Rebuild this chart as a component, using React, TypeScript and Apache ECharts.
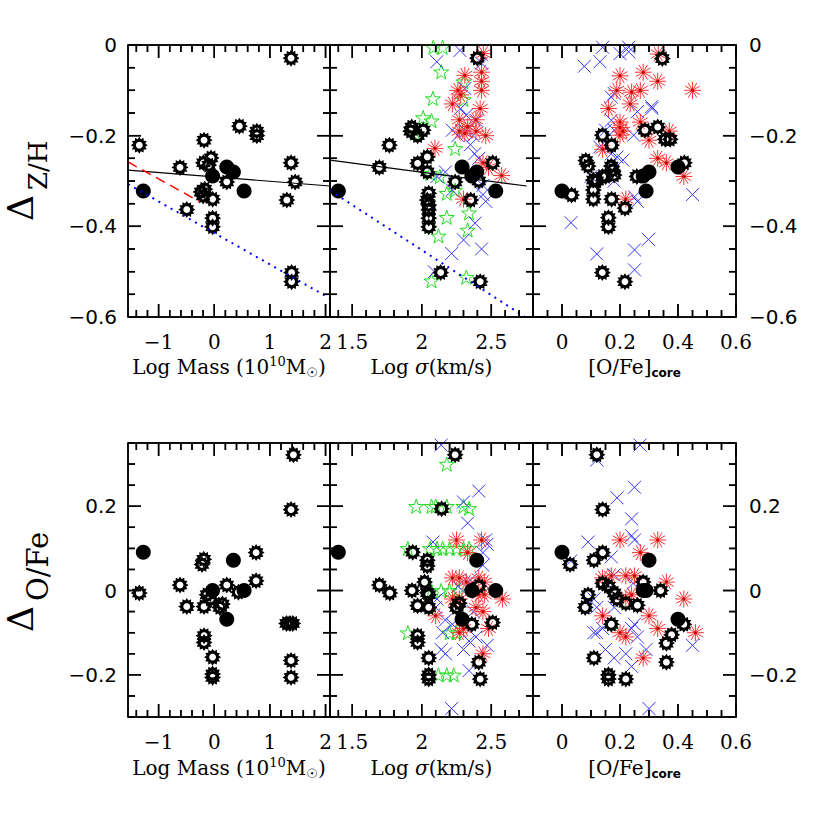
import React, { useEffect, useRef } from 'react';
import * as echarts from 'echarts';

// ---------- data ----------
// five galaxies drawn as filled black circles (same objects in every panel)
const galMass = [-1.275, -0.03, 0.225, 0.344, 0.536];
const galSigma = [1.40, 2.36, 2.29, 2.395, 2.532];
const galOFeCore = [0.0, 0.28, 0.40, 0.30, 0.29];
const galDZH = [-0.322, -0.289, -0.269, -0.28, -0.322];
const galDOFe = [0.091, 0.0, -0.068, 0.072, 0.0];

// open "sun" markers
const sunMassZH = [[-1.347,-0.221],[-0.615,-0.27],[-0.494,-0.363],[-0.183,-0.21],[-0.195,-0.26],[-0.057,-0.249],[-0.1,-0.265],[-0.237,-0.324],[-0.2,-0.333],[-0.17,-0.318],[-0.03,-0.34],[-0.03,-0.382],[-0.03,-0.401],[0.225,-0.302],[0.452,-0.179],[0.765,-0.19],[0.765,-0.2],[1.38,-0.029],[1.38,-0.26],[1.454,-0.302],[1.304,-0.342],[1.39,-0.502],[1.39,-0.522]];
const sunMassOFe = [[-1.347,-0.006],[-0.615,0.013],[-0.494,-0.038],[-0.19,0.074],[-0.22,0.062],[-0.183,-0.038],[-0.13,-0.01],[-0.07,-0.02],[0.146,-0.032],[0.1,-0.04],[0.225,0.013],[0.434,-0.004],[0.752,0.09],[0.752,0.023],[-0.183,-0.107],[-0.183,-0.123],[-0.03,-0.158],[-0.03,-0.198],[-0.03,-0.206],[1.423,0.322],[1.38,0.192],[1.30,-0.078],[1.41,-0.078],[1.36,-0.078],[1.38,-0.166],[1.38,-0.206]];
const sunSigZH = [[1.695,-0.27],[1.767,-0.221],[1.928,-0.181],[1.92,-0.19],[1.97,-0.2],[2.01,-0.188],[1.97,-0.261],[2.04,-0.247],[2.04,-0.28],[2.05,-0.327],[2.04,-0.342],[2.05,-0.353],[2.05,-0.364],[2.05,-0.382],[2.05,-0.401],[2.136,-0.502],[2.24,-0.302],[2.352,-0.342],[2.40,-0.029],[2.42,-0.522],[2.51,-0.26],[2.41,-0.30]];
const sunSigOFe = [[1.695,0.013],[1.77,-0.006],[1.935,0.091],[1.93,0.0],[1.97,-0.036],[1.97,-0.107],[1.97,-0.123],[2.04,0.072],[2.04,0.058],[2.02,0.02],[2.04,-0.005],[2.05,-0.01],[2.05,-0.04],[2.05,-0.16],[2.05,-0.2],[2.05,-0.21],[2.143,0.194],[2.24,0.322],[2.27,-0.03],[2.25,-0.04],[2.36,-0.08],[2.41,0.01],[2.51,-0.076],[2.41,-0.17],[2.42,-0.21]];
const sunCoreZH = [[0.033,-0.331],[0.082,-0.255],[0.09,-0.267],[0.108,-0.298],[0.12,-0.30],[0.108,-0.32],[0.108,-0.34],[0.139,-0.199],[0.171,-0.221],[0.17,-0.267],[0.175,-0.276],[0.18,-0.287],[0.14,-0.29],[0.15,-0.29],[0.171,-0.34],[0.16,-0.381],[0.16,-0.401],[0.139,-0.502],[0.217,-0.522],[0.217,-0.36],[0.258,-0.29],[0.286,-0.188],[0.33,-0.181],[0.356,-0.208],[0.373,-0.208],[0.346,-0.03],[0.422,-0.26]];
const sunCoreOFe = [[0.12,0.322],[0.14,0.192],[0.028,0.062],[0.11,0.072],[0.14,0.09],[0.14,0.017],[0.16,0.01],[0.09,-0.01],[0.08,-0.04],[0.18,-0.006],[0.19,-0.02],[0.22,-0.03],[0.26,-0.035],[0.17,-0.08],[0.28,0.02],[0.34,0.0],[0.378,-0.105],[0.36,-0.125],[0.42,-0.08],[0.11,-0.16],[0.36,-0.17],[0.16,-0.2],[0.16,-0.21],[0.22,-0.21]];

// green open stars (sigma panels only)
const greenSigZH = [[2.083,-0.005],[2.15,-0.005],[2.14,-0.059],[2.08,-0.118],[2.01,-0.16],[2.07,-0.167],[1.95,-0.195],[2.24,-0.228],[2.30,-0.081],[2.30,-0.12],[2.06,-0.283],[2.13,-0.29],[2.18,-0.327],[2.24,-0.32],[2.34,-0.37],[2.18,-0.38],[2.33,-0.408],[2.12,-0.421],[2.07,-0.52],[2.32,-0.512]];
const greenSigOFe = [[2.18,0.30],[1.96,0.20],[2.07,0.20],[2.10,0.20],[2.18,0.20],[2.30,0.20],[2.34,0.195],[1.90,0.10],[2.06,0.10],[2.11,0.10],[2.15,0.10],[2.20,0.10],[2.25,0.10],[2.30,0.10],[2.34,0.10],[2.07,0.0],[2.14,0.0],[2.20,0.0],[2.26,0.0],[1.90,-0.10],[2.20,-0.10],[2.25,-0.10],[2.12,-0.20],[2.18,-0.20],[2.23,-0.20]];

// blue crosses
const blueSigZH = [[2.275,-0.012],[2.108,-0.037],[2.43,-0.04],[2.31,-0.096],[2.28,-0.14],[2.32,-0.155],[2.22,-0.188],[2.26,-0.20],[2.32,-0.19],[2.37,-0.20],[2.39,-0.166],[2.35,-0.22],[2.38,-0.24],[2.41,-0.25],[2.11,-0.29],[2.17,-0.28],[2.44,-0.33],[2.46,-0.345],[2.383,-0.393],[2.30,-0.43],[2.43,-0.45],[2.215,-0.46],[2.09,-0.50],[2.44,-0.31],[2.22,-0.32]];
const blueCoreZH = [[0.077,-0.047],[0.131,-0.037],[0.14,-0.005],[0.20,-0.019],[0.23,-0.015],[0.23,-0.005],[0.17,-0.115],[0.18,-0.107],[0.309,-0.136],[0.31,-0.14],[0.26,-0.147],[0.17,-0.166],[0.15,-0.188],[0.18,-0.188],[0.247,-0.199],[0.13,-0.225],[0.17,-0.24],[0.19,-0.247],[0.21,-0.254],[0.10,-0.29],[0.18,-0.30],[0.26,-0.345],[0.25,-0.335],[0.45,-0.33],[0.031,-0.392],[0.298,-0.429],[0.12,-0.461],[0.25,-0.452],[0.25,-0.496]];
const blueSigOFe = [[2.14,0.345],[2.41,0.236],[2.30,0.21],[2.33,0.16],[2.08,0.115],[2.46,0.12],[2.47,0.11],[2.44,0.09],[2.44,0.06],[2.35,0.025],[2.26,0.01],[2.35,0.015],[2.11,-0.02],[2.10,-0.04],[2.17,-0.07],[2.22,-0.08],[2.15,-0.10],[2.34,-0.12],[2.39,-0.11],[2.37,-0.05],[2.14,-0.14],[2.17,-0.15],[2.30,-0.14],[2.47,-0.13],[2.34,-0.19],[2.215,-0.28]];
const blueCoreOFe = [[0.269,0.345],[0.12,0.31],[0.25,0.245],[0.19,0.22],[0.24,0.17],[0.24,0.13],[0.25,0.12],[0.09,0.115],[0.17,0.08],[0.03,0.07],[0.18,0.037],[0.15,0.02],[0.245,0.017],[0.11,-0.02],[0.12,-0.04],[0.18,-0.04],[0.11,-0.1],[0.12,-0.1],[0.14,-0.09],[0.25,-0.08],[0.24,-0.09],[0.26,-0.11],[0.29,-0.14],[0.15,-0.14],[0.18,-0.16],[0.22,-0.15],[0.24,-0.18],[0.45,-0.13],[0.30,-0.28]];

// red asterisks
const redSigZH = [[2.443,-0.019],[2.31,-0.067],[2.43,-0.06],[2.43,-0.08],[2.26,-0.10],[2.28,-0.11],[2.43,-0.10],[2.22,-0.13],[2.42,-0.14],[2.27,-0.165],[2.33,-0.18],[2.39,-0.165],[2.27,-0.19],[2.31,-0.195],[2.39,-0.19],[2.46,-0.20],[2.095,-0.228],[2.44,-0.26],[2.575,-0.288],[2.30,-0.34],[2.48,-0.27]];
const redCoreZH = [[0.332,-0.02],[0.28,-0.06],[0.20,-0.068],[0.33,-0.08],[0.189,-0.10],[0.24,-0.104],[0.27,-0.10],[0.235,-0.13],[0.45,-0.10],[0.16,-0.14],[0.20,-0.17],[0.20,-0.182],[0.21,-0.19],[0.27,-0.17],[0.20,-0.199],[0.30,-0.21],[0.37,-0.19],[0.14,-0.23],[0.33,-0.25],[0.36,-0.26],[0.42,-0.29],[0.22,-0.34]];
const redSigOFe = [[2.25,0.12],[2.43,0.12],[2.33,0.09],[2.22,0.03],[2.27,0.03],[2.32,0.02],[2.41,0.03],[2.45,0.02],[2.22,-0.02],[2.27,-0.02],[2.41,-0.01],[2.45,-0.01],[2.58,-0.02],[2.10,-0.06],[2.39,-0.04],[2.44,-0.05],[2.27,-0.10],[2.30,-0.09],[2.48,-0.09],[2.44,-0.15]];
const redCoreOFe = [[0.20,0.12],[0.33,0.12],[0.27,0.09],[0.14,0.03],[0.17,0.035],[0.22,0.035],[0.25,0.035],[0.36,0.02],[0.42,-0.02],[0.24,-0.01],[0.22,-0.02],[0.30,-0.06],[0.14,-0.06],[0.33,-0.09],[0.20,-0.10],[0.22,-0.11],[0.46,-0.10],[0.28,-0.16]];

// fitted / model lines
const fitMassZH = [[-1.55,-0.276],[2.08,-0.311]];
const dashMassZH = [[-1.55,-0.258],[-0.255,-0.346]];
const dotMassZH = [[-1.55,-0.307],[2.08,-0.559]];
const fitSigZH = [[1.34,-0.254],[2.755,-0.311]];
const dotSigZH = [[1.34,-0.321],[2.743,-0.6]];

// axes
const xRanges = [[-1.55, 2.08], [1.34, 2.8], [-0.1, 0.6]];
const xMajorTicks = [[-1, 0, 1, 2], [1.5, 2, 2.5], [0, 0.2, 0.4, 0.6]];
const xMinorSteps = [0.2, 0.1, 0.05];
const yRanges = [[-0.6, 0], [-0.3, 0.35]];
const yMajorTicks = [[-0.6, -0.4, -0.2, 0], [-0.2, 0, 0.2]];
const yMinorSteps = [0.05, 0.05];

// ---------- layout ----------
const COLS = [{ left: 128, width: 202 }, { left: 330, width: 203 }, { left: 533, width: 203 }];
const ROWS = [{ top: 45, height: 272 }, { top: 443, height: 274 }];
const SERIF = '"DejaVu Serif", serif';
const SANS = '"DejaVu Sans", sans-serif';
const MAJOR_LEN = 13, MINOR_LEN = 7, TICK_W = 1.5;

function minorTicks(lo: number, hi: number, step: number, major: number[]) {
  const out: number[] = [];
  const n0 = Math.ceil(lo / step - 1e-9), n1 = Math.floor(hi / step + 1e-9);
  for (let k = n0; k <= n1; k++) {
    const v = +(k * step).toFixed(4);
    if (!major.some(m => Math.abs(m - v) < 1e-6)) out.push(v);
  }
  return out;
}
const fmt = (v: number) => {
  const s = String(+Math.abs(v).toFixed(2));
  return v < -1e-9 ? '\u2212' + s : s;
};

function sunPath() {
  const R = 10, r = 7.3, h = 4.0, n = 12;
  let d = '';
  for (let i = 0; i < 2 * n; i++) {
    const a = (Math.PI * i) / n - Math.PI / 2;
    const rad = i % 2 === 0 ? R : r;
    d += (i === 0 ? 'M' : 'L') + (10 + rad * Math.cos(a)).toFixed(2) + ' ' + (10 + rad * Math.sin(a)).toFixed(2) + ' ';
  }
  d += 'Z ';
  for (let i = 0; i < 24; i++) {
    const a = (-2 * Math.PI * i) / 24;
    d += (i === 0 ? 'M' : 'L') + (10 + h * Math.cos(a)).toFixed(2) + ' ' + (10 + h * Math.sin(a)).toFixed(2) + ' ';
  }
  return 'path://' + d + 'Z';
}
function starPath() {
  let d = '';
  for (let i = 0; i < 10; i++) {
    const a = (Math.PI * i) / 5 - Math.PI / 2;
    const rad = i % 2 === 0 ? 10 : 3.9;
    d += (i === 0 ? 'M' : 'L') + (10 + rad * Math.cos(a)).toFixed(2) + ' ' + (10 + rad * Math.sin(a)).toFixed(2) + ' ';
  }
  return 'path://' + d + 'Z';
}
function asteriskPath() {
  let d = '';
  for (let k = 0; k < 6; k++) {
    const a = (Math.PI * k) / 6;
    d += 'M' + (10 + 10 * Math.cos(a)).toFixed(2) + ' ' + (10 + 10 * Math.sin(a)).toFixed(2) +
      'L' + (10 - 10 * Math.cos(a)).toFixed(2) + ' ' + (10 - 10 * Math.sin(a)).toFixed(2) + ' ';
  }
  return 'path://' + d;
}
const SUN = sunPath();
const STAR = starPath();
const AST = asteriskPath();
const CROSS = 'path://M0 0L10 10M10 0L0 10';

const zip = (a: number[], b: number[]) => a.map((v, i) => [v, b[i]]);

const PANELS = [
  { row: 0, col: 0, sun: sunMassZH, green: [], blue: [], red: [], circ: zip(galMass, galDZH), lines: [{ d: fitMassZH, k: 'fit' }, { d: dashMassZH, k: 'dash' }, { d: dotMassZH, k: 'dot' }] },
  { row: 0, col: 1, sun: sunSigZH, green: greenSigZH, blue: blueSigZH, red: redSigZH, circ: zip(galSigma, galDZH), lines: [{ d: fitSigZH, k: 'fit' }, { d: dotSigZH, k: 'dot' }] },
  { row: 0, col: 2, sun: sunCoreZH, green: [], blue: blueCoreZH, red: redCoreZH, circ: zip(galOFeCore, galDZH), lines: [] },
  { row: 1, col: 0, sun: sunMassOFe, green: [], blue: [], red: [], circ: zip(galMass, galDOFe), lines: [] },
  { row: 1, col: 1, sun: sunSigOFe, green: greenSigOFe, blue: blueSigOFe, red: redSigOFe, circ: zip(galSigma, galDOFe), lines: [] },
  { row: 1, col: 2, sun: sunCoreOFe, green: [], blue: blueCoreOFe, red: redCoreOFe, circ: zip(galOFeCore, galDOFe), lines: [] },
];

function titleGraphics() {
  const rich = {
    n: { fontFamily: SERIF, fontSize: 20, lineHeight: 24, verticalAlign: 'middle', fill: '#000', color: '#000' },
    i: { fontFamily: SERIF, fontSize: 20, fontStyle: 'italic', lineHeight: 24, verticalAlign: 'middle', fill: '#000', color: '#000' },
    sup: { fontFamily: SERIF, fontSize: 13, lineHeight: 10, verticalAlign: 'top', fill: '#000', color: '#000' },
    sub: { fontFamily: SANS, fontSize: 13, lineHeight: 10, verticalAlign: 'bottom', fill: '#000', color: '#000' },
    core: { fontFamily: SANS, fontSize: 12, fontWeight: 'bold', lineHeight: 8, verticalAlign: 'bottom', fill: '#000', color: '#000' },
  };
  const xTitles = ['{n|Log Mass (10}{sup|10}{n|M}{sub|\u2609}{n|)}', '{n|Log }{i|\u03c3}{n|(km/s)}', '{n|[O/Fe]}{core|core}'];
  const titleY = [367, 768];
  const g: any[] = [];
  ROWS.forEach((_, ri) => {
    COLS.forEach((c, ci) => {
      g.push({
        type: 'text', x: c.left + c.width / 2, y: titleY[ri],
        style: { text: xTitles[ci], rich, textAlign: 'center', align: 'center', textVerticalAlign: 'middle', verticalAlign: 'middle', fill: '#000', font: '20px ' + SERIF },
      });
    });
  });
  const yTitle = (cy: number, sub: string, dx: number, subSize: number) => ({
    type: 'group', x: 33, y: cy, rotation: Math.PI / 2,
    children: [
      { type: 'text', x: dx, y: -13, style: { text: '\u0394', font: '36px ' + SERIF, fill: '#000', textAlign: 'left', align: 'left', textVerticalAlign: 'middle', verticalAlign: 'middle' } },
      { type: 'text', x: dx + 31, y: 5, style: { text: sub, font: subSize + 'px ' + SERIF, fill: '#000', textAlign: 'left', align: 'left', textVerticalAlign: 'middle', verticalAlign: 'middle' } },
    ],
  });
  g.push(yTitle(181, 'Z/H', -40, 26));
  g.push(yTitle(580, 'O/Fe', -52, 29));
  return g;
}

// tick marks on all four sides of each panel, positioned through that panel's axes:
// thin rectangles (scatter symbols) plus a zig-zag line along each edge
function tickSeries(gi: number, col: number, row: number) {
  const xr = xRanges[col], yr = yRanges[row];
  const c = COLS[col], r = ROWS[row];
  const xMaj = xMajorTicks[col], xMin = minorTicks(xr[0], xr[1], xMinorSteps[col], xMaj);
  const yMaj = yMajorTicks[row], yMin = minorTicks(yr[0], yr[1], yMinorSteps[row], yMaj);
  const out: any[] = [];
  const ax = { xAxisIndex: gi, yAxisIndex: gi * 2 };
  const mk = (data: number[][], size: number[], offset: number[]) => out.push({
    type: 'scatter', ...ax, data, symbol: 'rect', symbolSize: size, symbolOffset: offset,
    clip: false, itemStyle: { color: '#000', opacity: 1 }, z: 9,
  });
  [[xMaj, MAJOR_LEN], [xMin, MINOR_LEN]].forEach(([vals, len]: any) => {
    mk(vals.map((v: number) => [v, yr[0]]), [TICK_W, len], [0, -len / 2]);
    mk(vals.map((v: number) => [v, yr[1]]), [TICK_W, len], [0, len / 2]);
  });
  [[yMaj, MAJOR_LEN], [yMin, MINOR_LEN]].forEach(([vals, len]: any) => {
    mk(vals.map((v: number) => [xr[0], v]), [len, TICK_W], [len / 2, 0]);
    mk(vals.map((v: number) => [xr[1], v]), [len, TICK_W], [-len / 2, 0]);
  });
  const dyPerPx = (yr[1] - yr[0]) / r.height, dxPerPx = (xr[1] - xr[0]) / c.width;
  const xt = [...xMaj.map(v => [v, MAJOR_LEN]), ...xMin.map(v => [v, MINOR_LEN])].sort((a, b) => a[0] - b[0]);
  const yt = [...yMaj.map(v => [v, MAJOR_LEN]), ...yMin.map(v => [v, MINOR_LEN])].sort((a, b) => a[0] - b[0]);
  const bottom: number[][] = [], top: number[][] = [], left: number[][] = [], right: number[][] = [];
  xt.forEach(([v, len]) => {
    bottom.push([v, yr[0]], [v, yr[0] + len * dyPerPx], [v, yr[0]]);
    top.push([v, yr[1]], [v, yr[1] - len * dyPerPx], [v, yr[1]]);
  });
  yt.forEach(([v, len]) => {
    left.push([xr[0], v], [xr[0] + len * dxPerPx, v], [xr[0], v]);
    right.push([xr[1], v], [xr[1] - len * dxPerPx, v], [xr[1], v]);
  });
  [bottom, top, left, right].forEach(d => out.push({
    type: 'line', ...ax, data: d, showSymbol: false, symbol: 'none', clip: false,
    lineStyle: { color: '#000', width: TICK_W, type: 'solid' }, z: 9,
  }));
  return out;
}

function buildOption() {
  const grid: any[] = [], xAxis: any[] = [], yAxis: any[] = [], series: any[] = [];
  PANELS.forEach((p, gi) => {
    const c = COLS[p.col], r = ROWS[p.row];
    grid.push({ left: c.left, top: r.top, width: c.width, height: r.height, show: true, borderColor: '#000', borderWidth: 1.5, backgroundColor: 'transparent' });
    const xr = xRanges[p.col], yr = yRanges[p.row];
    const xMaj = xMajorTicks[p.col], yMaj = yMajorTicks[p.row];
    const base = (mm: number[]) => ({ type: 'value', gridIndex: gi, min: mm[0], max: mm[1], axisLine: { show: false, onZero: false }, axisTick: { show: false }, splitLine: { show: false } });
    xAxis.push({ ...base(xr), position: 'bottom', axisLabel: { show: true, customValues: xMaj, formatter: fmt, margin: 15, color: '#000', fontFamily: SERIF, fontSize: 20 } });
    yAxis.push({ ...base(yr), position: 'left', axisLabel: { show: p.col === 0, customValues: yMaj, formatter: fmt, margin: 11, color: '#000', fontFamily: SANS, fontSize: 20 } });
    yAxis.push({ ...base(yr), position: 'right', axisLabel: { show: p.col === 2, customValues: yMaj, formatter: fmt, margin: 13, color: '#000', fontFamily: SANS, fontSize: 20 } });
    const ax = { xAxisIndex: gi, yAxisIndex: gi * 2 };
    if (p.green.length) series.push({ type: 'scatter', ...ax, data: p.green, symbol: STAR, symbolSize: 15, symbolKeepAspect: true, itemStyle: { color: 'transparent', borderColor: '#22dd22', borderWidth: 1, opacity: 1 }, z: 2 });
    if (p.blue.length) series.push({ type: 'scatter', ...ax, data: p.blue, symbol: CROSS, symbolSize: 13, itemStyle: { color: 'transparent', borderColor: '#3535ff', borderWidth: 1, opacity: 1 }, z: 3 });
    if (p.red.length) {
      series.push({ type: 'scatter', ...ax, data: p.red, symbol: AST, symbolSize: 17, itemStyle: { color: 'transparent', borderColor: '#ff3535', borderWidth: 1, opacity: 1 }, z: 4 });
      series.push({ type: 'scatter', ...ax, data: p.red, symbol: 'circle', symbolSize: 3, itemStyle: { color: '#c00000', opacity: 1 }, z: 4 });
    }
    series.push({ type: 'scatter', ...ax, data: p.sun, symbol: SUN, symbolSize: 17, itemStyle: { color: '#000', opacity: 1 }, z: 6 });
    series.push({ type: 'scatter', ...ax, data: p.circ, symbol: 'circle', symbolSize: 15, itemStyle: { color: '#000', opacity: 1 }, z: 7 });
    p.lines.forEach((l: any) => {
      const ls = l.k === 'fit' ? { color: '#000', width: 1.2, type: 'solid' }
        : l.k === 'dash' ? { color: '#ff0000', width: 1.5, type: [10, 6] }
        : { color: '#0000ff', width: 2, type: [2, 5] };
      series.push({ type: 'line', ...ax, data: l.d, showSymbol: false, symbol: 'none', lineStyle: ls, z: 8 });
    });
    series.push(...tickSeries(gi, p.col, p.row));
  });
  return { animation: false, backgroundColor: '#fff', grid, xAxis, yAxis, series, graphic: titleGraphics() };
}

export default function App() {
  const ref = useRef<HTMLDivElement>(null);
  useEffect(() => {
    if (!ref.current) return;
    const chart = echarts.init(ref.current, null, { renderer: 'svg' });
    chart.setOption(buildOption() as any);
    return () => chart.dispose();
  }, []);
  return <div ref={ref} style={{ position: 'fixed', left: 0, top: 0, width: 830, height: 817, background: '#fff' }} />;
}
